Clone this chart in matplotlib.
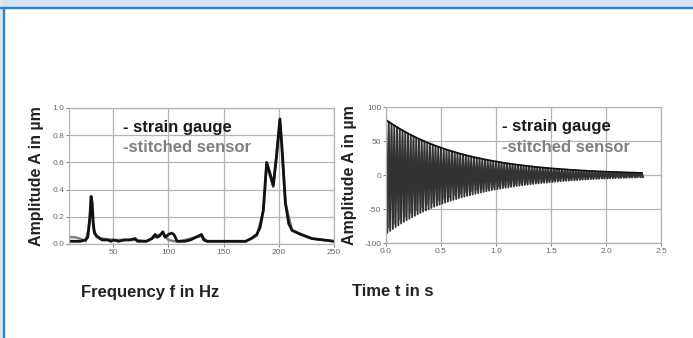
import numpy as np
import matplotlib
matplotlib.use('Agg')
import matplotlib.pyplot as plt
from matplotlib.patches import Rectangle

plt.rcParams['font.family'] = ['Liberation Sans', 'DejaVu Sans']
plt.rcParams['axes.unicode_minus'] = False

# spectrum (left plot)
freq_sg = [10, 15, 20, 25, 27, 29, 30, 31, 32, 33, 35, 38, 40, 45, 48, 50, 55, 60, 65, 70, 72,
           80, 85, 88, 90, 92, 95, 97, 100, 103, 105, 108, 115, 120, 125, 130, 132, 135, 150,
           170, 175, 180, 183, 186, 189, 192, 195, 198, 201, 203, 206, 209, 212, 220, 230, 240, 250]
amp_sg = [0.02, 0.02, 0.02, 0.03, 0.05, 0.2, 0.35, 0.3, 0.15, 0.08, 0.06, 0.04, 0.03, 0.03, 0.02,
          0.03, 0.02, 0.03, 0.03, 0.04, 0.02, 0.02, 0.04, 0.07, 0.05, 0.06, 0.09, 0.05, 0.07, 0.08,
          0.07, 0.02, 0.02, 0.03, 0.05, 0.07, 0.03, 0.02, 0.02, 0.02, 0.04, 0.07, 0.12, 0.25, 0.6,
          0.52, 0.43, 0.65, 0.92, 0.7, 0.3, 0.15, 0.1, 0.07, 0.04, 0.03, 0.02]
freq_ss = [10, 15, 20, 25, 28, 30, 32, 35, 40, 50, 60, 70, 80, 88, 95, 100, 105, 110, 120, 130,
           135, 150, 170, 180, 186, 189, 195, 201, 206, 212, 230, 250]
amp_ss = [0.05, 0.05, 0.04, 0.02, 0.12, 0.33, 0.12, 0.05, 0.04, 0.03, 0.03, 0.03, 0.02, 0.05, 0.08,
          0.03, 0.02, 0.02, 0.04, 0.06, 0.02, 0.02, 0.02, 0.06, 0.24, 0.58, 0.42, 0.9, 0.3, 0.1,
          0.04, 0.02]

# decaying oscillation (right plot): peak values per cycle
period_sg = 0.025
up_sg = [81.0, 78.2, 75.5, 72.9, 70.4, 67.9, 65.6, 63.3, 61.1, 59.0, 57.0, 55.0, 53.1, 51.3, 49.5,
         47.8, 46.1, 44.5, 43.0, 41.5, 40.1, 38.7, 37.3, 36.0, 34.8, 33.6, 32.4, 31.3, 30.2, 29.2,
         28.2, 27.2, 26.2, 25.3, 24.5, 23.6, 22.8, 22.0, 21.2, 20.5, 19.8, 19.1, 18.4, 17.8, 17.2,
         16.6, 16.0, 15.4, 14.9, 14.4, 13.9, 13.4, 12.9, 12.5, 12.0, 11.6, 11.2, 10.8, 10.5, 10.1,
         9.7, 9.4, 9.1, 8.8, 8.5, 8.2, 7.9, 7.6, 7.3, 7.1, 6.8, 6.6, 6.4, 6.1, 5.9, 5.7, 5.5, 5.3,
         5.1, 5.0, 4.8, 4.6, 4.5, 4.3, 4.2, 4.0, 3.9, 3.7, 3.6, 3.5, 3.4, 3.2, 3.1, 3.0]
low_sg = [-85.1, -82.1, -79.3, -76.5, -73.9, -71.3, -68.9, -66.5, -64.2, -62.0, -59.9, -57.8, -55.8,
          -53.9, -52.0, -50.2, -48.4, -46.7, -45.2, -43.6, -42.1, -40.6, -39.2, -37.8, -36.5, -35.3,
          -34.0, -32.9, -31.7, -30.7, -29.6, -28.6, -27.5, -26.6, -25.7, -24.8, -23.9, -23.1, -22.3,
          -21.5, -20.8, -20.1, -19.3, -18.7, -18.1, -17.4, -16.8, -16.2, -15.6, -15.1, -14.6, -14.1,
          -13.5, -13.1, -12.6, -12.2, -11.8, -11.3, -11.0, -10.6, -10.2, -9.9, -9.6, -9.2, -8.9, -8.6,
          -8.3, -8.0, -7.7, -7.5, -7.1, -6.9, -6.7, -6.4, -6.2, -6.0, -5.8, -5.6, -5.4, -5.3, -5.0,
          -4.8, -4.7, -4.5, -4.4, -4.2, -4.1, -3.9, -3.8, -3.7, -3.6, -3.4, -3.3, -3.2]
period_ss = 0.05
up_ss = [72, 68, 63, 58, 54, 50, 46, 43, 40, 37, 34, 32, 29, 27, 25, 23, 21.5, 20, 18.5, 17, 16,
         14.8, 13.7, 12.7, 11.8, 10.9, 10.1, 9.4, 8.7, 8.1, 7.5, 7.0, 6.5, 6.0, 5.6, 5.2, 4.9, 4.6,
         4.3, 4.0, 3.8, 3.6, 3.4, 3.2, 3.0, 2.9, 2.8]
low_ss = [-78, -72, -66, -61, -56, -52, -48, -44, -41, -38, -35, -33, -30, -28, -26, -24, -22.5,
          -21, -19.5, -18, -17, -15.8, -14.7, -13.7, -12.8, -11.9, -11.1, -10.4, -9.7, -9.1, -8.5,
          -8.0, -7.5, -7.0, -6.6, -6.2, -5.9, -5.6, -5.3, -5.0, -4.8, -4.6, -4.4, -4.2, -4.0, -3.9,
          -3.8]


def zigzag(up, low, period):
    n = min(len(up), len(low))
    t = np.empty(2 * n)
    y = np.empty(2 * n)
    t[0::2] = np.arange(n) * period
    t[1::2] = np.arange(n) * period + period / 2
    y[0::2] = up[:n]
    y[1::2] = low[:n]
    return t, y


grid_col = '#b4b4b4'
tick_col = '#6a6a6a'

fig = plt.figure(figsize=(6.93, 3.38), dpi=100)
# frame decoration
fig.patches.append(Rectangle((0, 1 - 7 / 338), 1, 7 / 338, transform=fig.transFigure,
                             color='#d6e2f2', zorder=0))
fig.patches.append(Rectangle((0, 0), 3 / 693, 1, transform=fig.transFigure,
                             color='#dfe6ee', zorder=0))
fig.patches.append(Rectangle((0, 1 - 8 / 338), 1, 1.4 / 338, transform=fig.transFigure,
                             color='#2a84d2', zorder=1))
fig.patches.append(Rectangle((3 / 693, 0), 1.4 / 693, 1 - 7 / 338, transform=fig.transFigure,
                             color='#2a84d2', zorder=1))

ax1 = fig.add_axes([69 / 693, (338 - 244) / 338, 265 / 693, 136 / 338])
ax2 = fig.add_axes([386 / 693, (338 - 243) / 338, 275 / 693, 136 / 338])

ax1.plot(freq_ss, amp_ss, color='#808080', lw=1.8)
ax1.plot(freq_sg, amp_sg, color='#111111', lw=2.0)
ax1.set_xlim(10, 250)
ax1.set_ylim(0, 1.0)
ax1.set_xticks([50, 100, 150, 200, 250])
ax1.set_yticks([0.0, 0.2, 0.4, 0.6, 0.8, 1.0])
ax1.set_yticklabels(['0.0', '0.2', '0.4', '0.6', '0.8', '1.0'])

t_ss, y_ss = zigzag(up_ss, low_ss, period_ss)
t_sg, y_sg = zigzag(up_sg, low_sg, period_sg)
ax2.plot(t_ss, y_ss, color='#808080', lw=1.0)
ax2.plot(t_sg, y_sg, color='#333333', lw=1.35)
ax2.plot(np.arange(len(up_sg)) * period_sg, up_sg, color='#111111', lw=1.3)
ax2.set_xlim(0, 2.5)
ax2.set_ylim(-100, 100)
ax2.set_xticks([0.0, 0.5, 1.0, 1.5, 2.0, 2.5])
ax2.set_xticklabels(['0.0', '0.5', '1.0', '1.5', '2.0', '2.5'])
ax2.set_yticks([-100, -50, 0, 50, 100])

legend_pos = {ax1: (0.204, 0.853, 0.706), ax2: (0.422, 0.853, 0.70)}
for ax in (ax1, ax2):
    ax.grid(True, color=grid_col, lw=0.9)
    ax.set_axisbelow(True)
    for s in ax.spines.values():
        s.set_color(grid_col)
        s.set_linewidth(0.9)
    ax.tick_params(labelsize=6, colors=tick_col, length=2, width=0.6, pad=1.5)
    ax.set_ylabel('Amplitude A in µm', fontsize=11.5, fontweight='bold', color='#222222')
    x0, y1, y2 = legend_pos[ax]
    ax.text(x0, y1, '- strain gauge', transform=ax.transAxes, va='center',
            fontsize=12, fontweight='bold', color='#1a1a1a')
    ax.text(x0, y2, '-stitched sensor', transform=ax.transAxes, va='center',
            fontsize=12, fontweight='bold', color='#808080')

ax1.yaxis.set_label_coords(-0.095, 0.5)
ax2.yaxis.set_label_coords(-0.106, 0.5)

fig.text(150 / 693, 1 - 292 / 338, 'Frequency f in Hz', ha='center', va='center',
         fontsize=12, fontweight='bold', color='#222222')
fig.text(393 / 693, 1 - 292 / 338, 'Time t in s', ha='center', va='center',
         fontsize=12, fontweight='bold', color='#222222')

fig.savefig('out.png', dpi=100)
